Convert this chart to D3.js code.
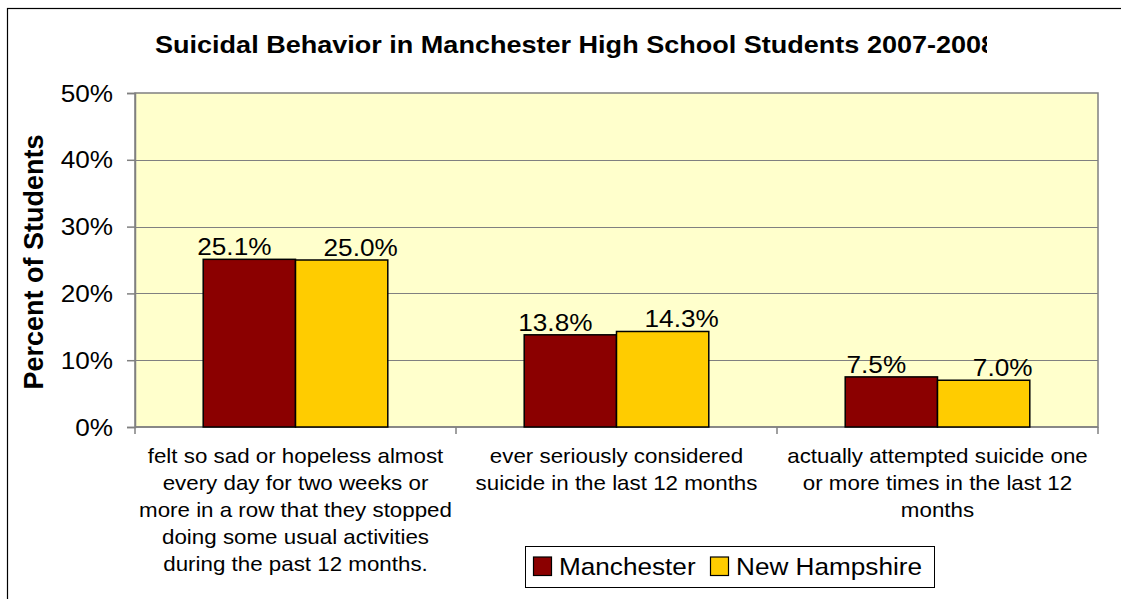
<!DOCTYPE html>
<html>
<head>
<meta charset="utf-8">
<script src="https://cdn.jsdelivr.net/npm/d3@7"></script>
<style>
  html, body { margin: 0; padding: 0; background: #fff; }
  svg { display: block; }
  text { font-family: "Liberation Sans", Arial, sans-serif; fill: #000; }
</style>
</head>
<body>
<svg id="chart" width="1121" height="599"></svg>
<script>
// ---- data ----
const categories = ["sad", "considered", "attempted"];
const categoryLines = [
  ["felt so sad or hopeless almost", "every day for two weeks or", "more in a row that they stopped", "doing some usual activities", "during the past 12 months."],
  ["ever seriously considered", "suicide in the last 12 months"],
  ["actually attempted suicide one", "or more times in the last 12", "months"]
];
const seriesNames = ["Manchester", "New Hampshire"];
const manchester = [25.1, 13.8, 7.5];
const newHampshire = [25.0, 14.3, 7.0];
const yTicks = [0, 10, 20, 30, 40, 50];
const yTickLabels = ["0%", "10%", "20%", "30%", "40%", "50%"];
const seriesColors = ["#8B0000", "#FFCC00"];
const titleText = "Suicidal Behavior in Manchester High School Students 2007-2008";
const yTitle = "Percent of Students";

// ---- layout ----
const plot = { left: 135, right: 1098, top: 93, bottom: 427 };
const SX = 1.09; // horizontal text stretch
const svg = d3.select("#chart");

function stext(g, x, y, str, size, anchor, weight) {
  return g.append("text")
    .attr("transform", `translate(${x},${y}) scale(${SX},1)`)
    .attr("text-anchor", anchor || "start")
    .style("font-size", size + "px")
    .style("font-weight", weight || "normal")
    .text(str);
}

// outer frame
svg.append("rect").attr("x", 7.5).attr("y", 8.5).attr("width", 1120).attr("height", 600)
  .attr("fill", "#fff").attr("stroke", "#000").attr("stroke-width", 1.2);

// scales
const x = d3.scaleBand().domain(categories).range([plot.left, plot.right]).padding(0);
const xs = d3.scaleBand().domain(seriesNames).range([0, x.bandwidth()]).paddingInner(0).paddingOuter(0.739);
const y = d3.scaleLinear().domain([0, 50]).range([plot.bottom, plot.top]);

// plot area
svg.append("rect").attr("x", plot.left).attr("y", plot.top)
  .attr("width", plot.right - plot.left).attr("height", plot.bottom - plot.top)
  .attr("fill", "#FFFFCC").attr("stroke", "#808080").attr("stroke-width", 1.5);

// gridlines
svg.append("g").selectAll("line").data(yTicks.filter(d => d > 0 && d < 50)).join("line")
  .attr("x1", plot.left).attr("x2", plot.right)
  .attr("y1", d => Math.round(y(d)) + 0.5).attr("y2", d => Math.round(y(d)) + 0.5)
  .attr("stroke", "#808080").attr("stroke-width", 1);

// y axis
const yAxis = svg.append("g").attr("transform", `translate(${plot.left},0)`)
  .call(d3.axisLeft(y).tickValues(yTicks).tickSize(8).tickFormat(""));
yAxis.select(".domain").attr("stroke", "#808080").attr("stroke-width", 1.5);
yAxis.selectAll(".tick line").attr("stroke", "#808080").attr("stroke-width", 1.5);
const ytl = svg.append("g");
yTicks.forEach((d, i) => {
  stext(ytl, 113, y(d) + 8.5, yTickLabels[i], 24, "end");
});

// x axis with boundary ticks
const xAxisG = svg.append("g").attr("transform", `translate(0,${plot.bottom})`);
xAxisG.append("line").attr("x1", plot.left).attr("x2", plot.right).attr("y1", 0).attr("y2", 0)
  .attr("stroke", "#808080").attr("stroke-width", 1.5);
const boundaries = categories.map(c => x(c)).concat([x(categories[categories.length - 1]) + x.bandwidth()]);
xAxisG.selectAll("line.tk").data(boundaries).join("line").attr("class", "tk")
  .attr("x1", d => d).attr("x2", d => d).attr("y1", 0).attr("y2", 7)
  .attr("stroke", "#808080").attr("stroke-width", 1.5);

// bars
const rows = categories.map((c, i) => ({ cat: c, vals: [manchester[i], newHampshire[i]] }));
const barG = svg.append("g");
rows.forEach(r => {
  r.vals.forEach((v, j) => {
    barG.append("rect")
      .attr("x", x(r.cat) + xs(seriesNames[j]))
      .attr("y", y(v))
      .attr("width", xs.bandwidth())
      .attr("height", y(0) - y(v))
      .attr("fill", seriesColors[j])
      .attr("stroke", "#000").attr("stroke-width", 1.5);
  });
});

// data labels
const labelDx = [-15, 19];
const labG = svg.append("g");
rows.forEach(r => {
  r.vals.forEach((v, j) => {
    const cx = x(r.cat) + xs(seriesNames[j]) + xs.bandwidth() / 2 + labelDx[j];
    stext(labG, cx, y(v) - 4, v.toFixed(1) + "%", 24, "middle");
  });
});

// category labels
const catG = svg.append("g");
categories.forEach((c, i) => {
  const cx = x(c) + x.bandwidth() / 2;
  categoryLines[i].forEach((ln, k) => {
    stext(catG, cx, plot.bottom + 36 + k * 27, ln, 20.5, "middle");
  });
});

// title (clipped on the right like the original)
svg.append("clipPath").attr("id", "tclip").append("rect")
  .attr("x", 0).attr("y", 0).attr("width", 987).attr("height", 80);
stext(svg.append("g").attr("clip-path", "url(#tclip)"), 155, 53, titleText, 24.8, "start", "bold");

// y title
svg.append("text")
  .attr("transform", `translate(43,${(plot.top + plot.bottom) / 2 + 2}) rotate(-90)`)
  .attr("text-anchor", "middle")
  .style("font-size", "27px").style("font-weight", "bold")
  .text(yTitle);

// legend
const lg = svg.append("g");
lg.append("rect").attr("x", 525.5).attr("y", 546.5).attr("width", 409).attr("height", 41)
  .attr("fill", "#fff").attr("stroke", "#000").attr("stroke-width", 1);
const legX = [533.5, 710.5];
const legTextX = [559, 736];
seriesNames.forEach((s, j) => {
  lg.append("rect").attr("x", legX[j]).attr("y", 557).attr("width", 18).attr("height", 18.5)
    .attr("fill", seriesColors[j]).attr("stroke", "#000").attr("stroke-width", 1.2);
  stext(lg, legTextX[j], 575, s, 24, "start");
});
</script>
</body>
</html>
